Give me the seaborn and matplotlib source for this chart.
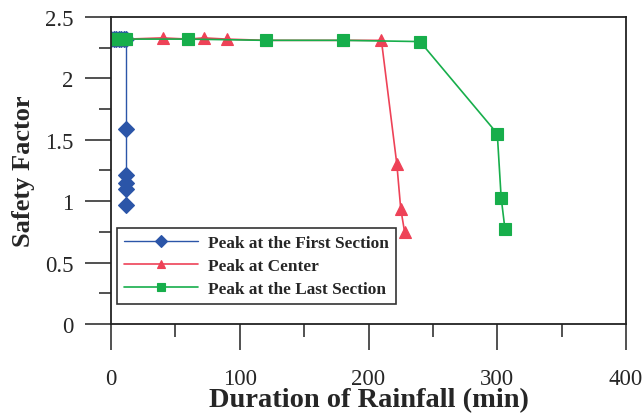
"""
Safety factor vs rainfall duration for three rainfall peak positions.
"""
import matplotlib
matplotlib.use("Agg")
import matplotlib.pyplot as plt
from matplotlib.ticker import MultipleLocator
import seaborn as sns
import pandas as pd

sns.set_theme(style="white")
plt.rcParams["font.family"] = ["Liberation Serif", "DejaVu Serif"]

COLORS = {
    "blue": "#2B55A8",
    "red": "#EE4257",
    "green": "#17AE4B",
}

# Peak at the first section
first_t = [0, 2, 4, 6, 8, 10, 12, 12, 12, 12, 12, 12]
first_sf = [2.32, 2.32, 2.32, 2.32, 2.32, 2.32, 2.32, 1.59, 1.21, 1.15, 1.10, 0.97]

# Peak at center
center_t = [0, 6, 12, 40, 60, 72, 90, 120, 180, 210, 222, 225, 228]
center_sf = [2.32, 2.32, 2.32, 2.33, 2.32, 2.33, 2.32, 2.31, 2.31, 2.31, 1.30, 0.94, 0.75]

# Peak at the last section
last_t = [0, 2, 4, 6, 8, 10, 12, 60, 120, 180, 240, 300, 303, 306]
last_sf = [2.32, 2.32, 2.32, 2.32, 2.32, 2.32, 2.32, 2.32, 2.31, 2.31, 2.30, 1.55, 1.03, 0.77]

LABELS = ["Peak at the First Section", "Peak at Center", "Peak at the Last Section"]


def make_df(t, sf):
    return pd.DataFrame({"t": t, "sf": sf})


fig = plt.figure(figsize=(6.44, 4.14), dpi=100)
ax = fig.add_axes([0.1724, 0.215, 0.7997, 0.7415])

series = [
    (first_t, first_sf, COLORS["blue"], "D", 8, 1.0, 10),
    (center_t, center_sf, COLORS["red"], "^", 8.5, 1.2, 5),
    (last_t, last_sf, COLORS["green"], "s", 9, 1.2, 6),
]
for (t, sf, color, marker, ms, lw, hole), label in zip(series, LABELS):
    df = make_df(t, sf)
    sns.lineplot(data=df, x="t", y="sf", ax=ax,
                 estimator=None, sort=False, color=color, linewidth=lw,
                 marker=marker, markersize=ms, markerfacecolor=color,
                 markeredgecolor=color, markeredgewidth=0.8, label=label)
    # small light centre of each marker
    sns.scatterplot(data=df, x="t", y="sf", ax=ax, marker=marker, s=hole,
                    color="white", edgecolor="none", alpha=0.8, legend=False)

ax.set_xlim(0, 400)
ax.set_ylim(0, 2.5)
ax.xaxis.set_major_locator(MultipleLocator(100))
ax.xaxis.set_minor_locator(MultipleLocator(50))
ax.yaxis.set_major_locator(MultipleLocator(0.5))
ax.yaxis.set_minor_locator(MultipleLocator(0.25))
ax.yaxis.set_major_formatter(plt.FuncFormatter(lambda v, p: f"{v:g}"))

ax.tick_params(which="major", direction="out", length=19, width=1.1,
               labelsize=16.5, left=True, bottom=True, color="#222222")
ax.tick_params(axis="x", which="major", pad=13)
ax.tick_params(axis="y", which="major", pad=8)
ax.tick_params(which="minor", direction="out", length=9, width=1.1,
               left=True, bottom=True, color="#222222")
for sp in ax.spines.values():
    sp.set_color("#222222")
    sp.set_linewidth(1.3)

ax.set_xlabel("Duration of Rainfall (min)", fontsize=20.5, fontweight="bold",
              labelpad=-1.5)
ax.set_ylabel("Safety Factor", fontsize=19, fontweight="bold")
ax.yaxis.set_label_coords(-0.147, 0.5)

leg = ax.legend(loc="lower left", bbox_to_anchor=(0.012, 0.065),
                prop={"family": "Liberation Serif", "weight": "bold", "size": 12.4},
                frameon=True, fancybox=False, edgecolor="black",
                handlelength=4.3, handletextpad=0.6, labelspacing=0.42,
                borderpad=0.4, borderaxespad=0)
leg.get_frame().set_linewidth(1.2)
for h in leg.legend_handles:
    h.set_markersize(6)

fig.savefig("out.png", dpi=100, facecolor="white")
plt.close(fig)
